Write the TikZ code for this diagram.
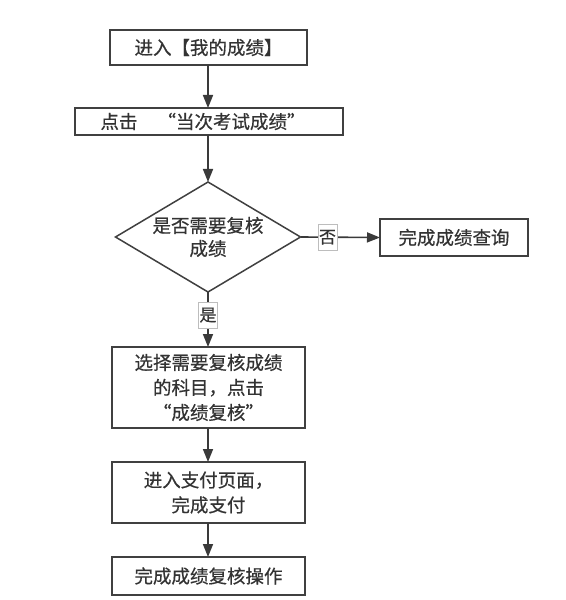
\documentclass[tikz,border=0pt]{standalone}
\usepackage{fontspec}
\setmainfont{Noto Sans CJK SC}[FakeBold=0.6]
\usetikzlibrary{arrows.meta,shapes.geometric}
\definecolor{linec}{HTML}{3A3A3A}
\definecolor{boxc}{HTML}{404040}
\definecolor{labc}{HTML}{BDBDBD}
\definecolor{txtc}{HTML}{333333}
\begin{document}
\begin{tikzpicture}[x=1bp,y=-1bp,
  box/.style={draw=boxc,line width=1.8bp,fill=white,inner sep=0pt,outer sep=0pt,align=center,text=txtc,font=\fontsize{18.5bp}{25bp}\selectfont},
  dec/.style={diamond,draw=boxc,line width=1.5bp,aspect=1.68,minimum width=185bp,minimum height=110bp,inner sep=0pt,outer sep=0pt,align=center,text=txtc,font=\fontsize{18.5bp}{23bp}\selectfont},
  conn/.style={draw=linec,line width=1.6bp,-{Triangle[length=13bp,width=10bp]}},
  lab/.style={draw=labc,line width=0.8bp,fill=white,inner sep=0pt,outer sep=0pt,minimum width=19bp,minimum height=26bp,text=txtc,font=\fontsize{17bp}{20bp}\selectfont}
]
\useasboundingbox[fill=white] (0,0) rectangle (566,600);
\node[box,minimum width=197bp,minimum height=35bp] (b1) at (208.5,47.5) {进入【我的成绩】};
\node[box,minimum width=268bp,minimum height=27bp] (b2) at (209,121.5) {点击\hspace{20bp}“当次考试成绩”\hspace{12bp}};
\node[dec] (d) at (208,237) {是否需要复核\\成绩};
\node[box,minimum width=148bp,minimum height=37bp] (b3) at (454,237.5) {完成成绩查询};
\node[box,minimum width=193bp,minimum height=81bp] (b4) at (208.5,387.5) {选择需要复核成绩\\的科目，点击\\“成绩复核”};
\node[box,minimum width=193bp,minimum height=61bp] (b5) at (208.5,492.5) {进入支付页面，\\完成支付};
\node[box,minimum width=193bp,minimum height=38bp] (b6) at (208.5,576) {完成成绩复核操作};
\draw[conn] (b1.south -| d.north) -- (b2.north -| d.north);
\draw[conn] (b2.south -| d.north) -- (d.north);
\draw[conn] (d.east) -- node[lab,pos=0.34] (no) {否} (b3.west);
\draw[conn] (d.south) -- node[lab,pos=0.42] (yes) {是} (b4.north -| d.south);
\draw[conn] (b4.south -| d.south) -- (b5.north -| d.south);
\draw[conn] (b5.south -| d.south) -- (b6.north -| d.south);
\end{tikzpicture}
\end{document}
